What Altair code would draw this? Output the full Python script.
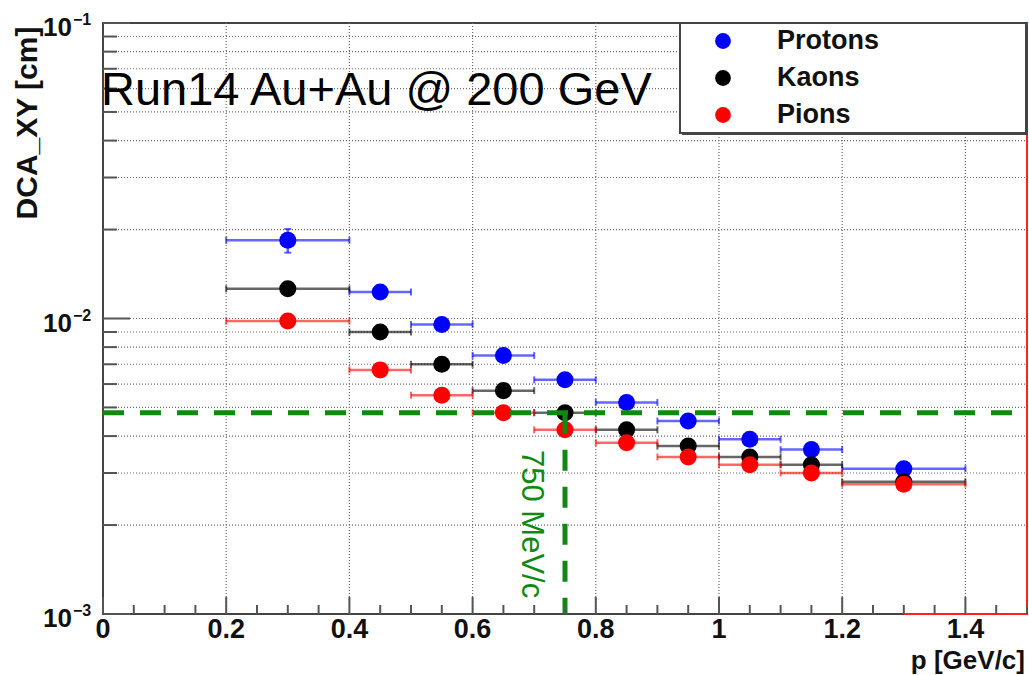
import altair as alt
import pandas as pd

# --- measured DCA_XY resolution vs momentum -------------------------------
series_names = ["Protons", "Kaons", "Pions"]
series_colors = ["#0000ff", "#000000", "#ff0000"]

p_center = [0.3, 0.45, 0.55, 0.65, 0.75, 0.85, 0.95, 1.05, 1.15, 1.3]
p_low = [0.2, 0.4, 0.5, 0.6, 0.7, 0.8, 0.9, 1.0, 1.1, 1.2]
p_high = [0.4, 0.5, 0.6, 0.7, 0.8, 0.9, 1.0, 1.1, 1.2, 1.4]

dca_protons = [0.0184, 0.0123, 0.00955, 0.0075, 0.0062, 0.0052, 0.0045, 0.0039, 0.0036, 0.0031]
dca_kaons = [0.0126, 0.0090, 0.0070, 0.0057, 0.0048, 0.0042, 0.0037, 0.0034, 0.0032, 0.0028]
dca_pions = [0.0098, 0.0067, 0.0055, 0.0048, 0.0042, 0.0038, 0.0034, 0.0032, 0.0030, 0.00275]

err_protons = [0.0017, 0, 0, 0, 0, 0, 0, 0, 0, 0]
err_kaons = [0, 0, 0, 0, 0, 0, 0, 0, 0, 0]
err_pions = [0, 0, 0, 0, 0, 0, 0, 0, 0, 0]

# cut reference: DCA value reached by kaons at 750 MeV/c
cut_dca = 0.0048
cut_p = 0.75
cut_label = "750 MeV/c"

# stray histogram edge along the right/bottom of the frame
edge_x = [1.3, 1.5, 1.5]
edge_y = [0.001, 0.001, 0.1]

# axes
x_domain = [0, 1.5]
y_domain = [0.001, 0.1]
x_major = [0, 0.2, 0.4, 0.6, 0.8, 1.0, 1.2, 1.4]
x_major_labels = ["0", "0.2", "0.4", "0.6", "0.8", "1", "1.2", "1.4"]
x_minor = [round(0.05 * i, 2) for i in range(31) if i % 4 != 0]
y_major = [0.001, 0.01, 0.1]
y_major_exp = ["\u22123", "\u22122", "\u22121"]
y_minor = [m * 0.001 for m in range(2, 10)] + [m * 0.01 for m in range(2, 10)]

title_text = "Run14 Au+Au @ 200 GeV"
x_title = "p [GeV/c]"
y_title = "DCA_XY [cm]"

W, H = 924, 591
FONT = "Liberation Sans"

rows = []
for name, vals, errs in zip(series_names, [dca_protons, dca_kaons, dca_pions],
                            [err_protons, err_kaons, err_pions]):
    for p, lo, hi, v, e in zip(p_center, p_low, p_high, vals, errs):
        rows.append({"series": name, "p": p, "lo": lo, "hi": hi, "dca": v, "err": e})
points = pd.DataFrame(rows)

xs = alt.Scale(domain=x_domain, nice=False, zero=False)
ys = alt.Scale(type="log", domain=y_domain, nice=False)
color = alt.Color("series:N", scale=alt.Scale(domain=series_names, range=series_colors), legend=None)


def X(field):
    return alt.X(field, type="quantitative", scale=xs, axis=None)


def Y(field):
    return alt.Y(field, type="quantitative", scale=ys, axis=None)


dot_grid = dict(color="#6a6a6a", strokeWidth=1.2, strokeDash=[1, 2])

# grid
xgrid = alt.Chart(pd.DataFrame({"v": x_major[1:]})).mark_rule(**dot_grid).encode(
    x=X("v"), y=alt.value(0), y2=alt.value(H))
ygrid = alt.Chart(pd.DataFrame({"v": y_minor + [0.01]})).mark_rule(**dot_grid).encode(
    y=Y("v"), x=alt.value(0), x2=alt.value(W))

# ticks (inside the frame)
tick_style = dict(color="#555555", strokeWidth=2)
xmaj_t = alt.Chart(pd.DataFrame({"v": x_major})).mark_rule(**tick_style).encode(
    x=X("v"), y=alt.value(H), y2=alt.value(H - 17))
xmin_t = alt.Chart(pd.DataFrame({"v": x_minor})).mark_rule(**tick_style).encode(
    x=X("v"), y=alt.value(H), y2=alt.value(H - 9))
ymaj_t = alt.Chart(pd.DataFrame({"v": y_major})).mark_rule(**tick_style).encode(
    y=Y("v"), x=alt.value(0), x2=alt.value(27))
ymin_t = alt.Chart(pd.DataFrame({"v": y_minor})).mark_rule(**tick_style).encode(
    y=Y("v"), x=alt.value(0), x2=alt.value(14))

# tick labels
xlab = alt.Chart(pd.DataFrame({"v": x_major, "t": x_major_labels})).mark_text(
    font=FONT, fontSize=27, fontWeight="bold", align="center", baseline="alphabetic", color="#111"
).encode(x=X("v"), y=alt.value(H + 24), text="t:N")
ylab_base = alt.Chart(pd.DataFrame({"v": y_major})).mark_text(
    font=FONT, fontSize=26, fontWeight="bold", align="right", baseline="alphabetic", dy=13, color="#111"
).encode(y=Y("v"), x=alt.value(-31), text=alt.value("10"))
ylab_exp = alt.Chart(pd.DataFrame({"v": y_major, "t": y_major_exp})).mark_text(
    font=FONT, fontSize=16, fontWeight="bold", align="left", baseline="alphabetic", dy=2, color="#111"
).encode(y=Y("v"), x=alt.value(-30), text="t:N")

# axis titles and run label
xtitle = alt.Chart(pd.DataFrame({"t": [x_title]})).mark_text(
    font=FONT, fontSize=26, fontWeight="bold", align="right", baseline="alphabetic", color="#111"
).encode(x=alt.value(W - 2), y=alt.value(H + 55), text="t:N")
ytitle = alt.Chart(pd.DataFrame({"t": [y_title]})).mark_text(
    font=FONT, fontSize=30, fontWeight="bold", align="center", baseline="alphabetic", angle=270, color="#111"
).encode(x=alt.value(-66), y=alt.value(100), text="t:N")
run_label = alt.Chart(pd.DataFrame({"t": [title_text]})).mark_text(
    font=FONT, fontSize=47, align="left", baseline="alphabetic", color="#000"
).encode(x=alt.value(-2), y=alt.value(82), text="t:N")

# stray red histogram edge
edge = alt.Chart(pd.DataFrame({"x": edge_x, "y": edge_y, "o": [0, 1, 2]})).mark_line(
    color="#ff2020", strokeWidth=2
).encode(x=X("x"), y=Y("y"), order="o:Q")

# horizontal (bin-width) error bars
hbar = alt.Chart(points).mark_rule(strokeWidth=2.5, opacity=0.6).encode(
    x=X("lo"), x2="hi", y=Y("dca"), color=color)
hcap_lo = alt.Chart(points).mark_tick(orient="vertical", size=7, thickness=2, opacity=0.6).encode(
    x=X("lo"), y=Y("dca"), color=color)
hcap_hi = alt.Chart(points).mark_tick(orient="vertical", size=7, thickness=2, opacity=0.6).encode(
    x=X("hi"), y=Y("dca"), color=color)

# vertical (statistical) error bars where they stick out of the marker
vbase = alt.Chart(points).transform_filter("datum.err > 0").transform_calculate(
    ylo="datum.dca - datum.err", yhi="datum.dca + datum.err")
vbar = vbase.mark_rule(strokeWidth=2.5, opacity=0.6).encode(
    x=X("p"), y=Y("ylo:Q"), y2="yhi:Q", color=color)
vcap_lo = vbase.mark_tick(orient="horizontal", size=7, thickness=2, opacity=0.6).encode(
    x=X("p"), y=Y("ylo:Q"), color=color)
vcap_hi = vbase.mark_tick(orient="horizontal", size=7, thickness=2, opacity=0.6).encode(
    x=X("p"), y=Y("yhi:Q"), color=color)

dots = alt.Chart(points).mark_circle(size=290, opacity=1).encode(
    x=X("p"), y=Y("dca"), color=color)

# DCA cut and momentum marker
green = "#118811"
hcut = alt.Chart(pd.DataFrame({"y": [cut_dca]})).mark_rule(
    color=green, strokeWidth=5, strokeDash=[21, 16]
).encode(y=Y("y"), x=alt.value(0), x2=alt.value(W))
vcut = alt.Chart(pd.DataFrame({"x": [cut_p], "y": [cut_dca], "y2": [y_domain[0]]})).mark_rule(
    color=green, strokeWidth=5, strokeDash=[21, 16]
).encode(x=X("x"), y=Y("y"), y2="y2")
cut_text = alt.Chart(pd.DataFrame({"t": [cut_label]})).mark_text(
    font=FONT, fontSize=31, color=green, angle=90, align="left", baseline="alphabetic"
).encode(x=alt.value(419), y=alt.value(427), text="t:N")

# legend box
leg_shadow = alt.Chart(pd.DataFrame({"a": [0]})).mark_rect(color="#444444").encode(
    x=alt.value(579), x2=alt.value(925), y=alt.value(2), y2=alt.value(112))
leg_box = alt.Chart(pd.DataFrame({"a": [0]})).mark_rect(
    fill="white", stroke="#444444", strokeWidth=2
).encode(x=alt.value(577), x2=alt.value(923), y=alt.value(0), y2=alt.value(110))
leg_df = pd.DataFrame({"series": series_names, "row": [0, 1, 2]})
leg_dots = alt.Chart(leg_df).mark_circle(size=250, opacity=1).transform_calculate(
    py="18 + 37 * datum.row"
).encode(x=alt.value(620), y=alt.Y("py:Q", scale=None, axis=None), color=color)
leg_text = alt.Chart(leg_df).mark_text(
    font=FONT, fontSize=27, fontWeight="bold", align="left", baseline="middle", color="#111"
).transform_calculate(py="18 + 37 * datum.row").encode(
    x=alt.value(674), y=alt.Y("py:Q", scale=None, axis=None), text="series:N")

chart = alt.layer(
    xgrid, ygrid, hbar, hcap_lo, hcap_hi, vbar, vcap_lo, vcap_hi, dots,
    hcut, vcut, cut_text, edge, xmaj_t, xmin_t, ymaj_t, ymin_t,
    xlab, ylab_base, ylab_exp, xtitle, ytitle, run_label,
    leg_shadow, leg_box, leg_dots, leg_text,
).properties(
    width=W, height=H,
    autosize=alt.AutoSizeParams(type="none"),
    padding={"left": 103, "top": 23, "right": 2, "bottom": 61},
    background="white",
).configure_view(stroke="#444444", strokeWidth=2)

chart.save("out.html", embed_options={"renderer": "svg", "actions": False})
